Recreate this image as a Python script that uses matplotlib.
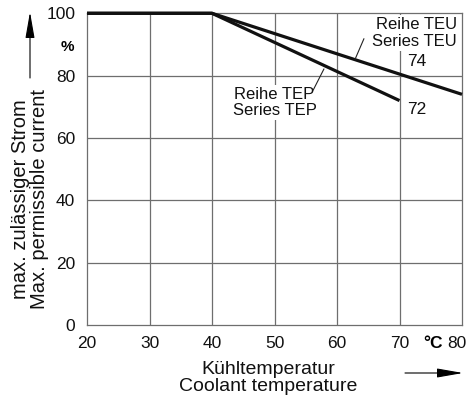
import matplotlib
matplotlib.use("Agg")
import matplotlib.pyplot as plt
from matplotlib.transforms import ScaledTranslation

plt.rcParams['font.family'] = ['Liberation Sans', 'DejaVu Sans']

temps_teu = [20, 40, 80]
current_teu = [100, 100, 74]
temps_tep = [20, 40, 70]
current_tep = [100, 100, 72]
x_ticks = [20, 30, 40, 50, 60, 70, 80]
y_ticks = [0, 20, 40, 60, 80, 100]

W, H = 467, 399
fig = plt.figure(figsize=(W/100, H/100), dpi=100)
L, R, T, B = 87, 462, 13.3, 325
ax = fig.add_axes([L/W, 1-B/H, (R-L)/W, (B-T)/H])
ax.set_xlim(20, 80)
ax.set_ylim(0, 100)

gc = '#6e6e6e'
for x in x_ticks[1:-1]:
    ax.plot([x, x], [0, 100], color=gc, lw=0.9, zorder=1)
for y in y_ticks[1:-1]:
    ax.plot([20, 80], [y, y], color=gc, lw=0.9, zorder=1)

ax.plot(temps_teu, current_teu, color='#111111', lw=2.3, zorder=3, clip_on=False, solid_capstyle='butt')
ax.plot(temps_tep, current_tep, color='#111111', lw=2.3, zorder=3, clip_on=False, solid_capstyle='butt')

for s in ax.spines.values():
    s.set_linewidth(0.9)
    s.set_color(gc)

ax.set_xticks(x_ticks)
ax.set_xticklabels([str(v) for v in x_ticks])
ax.set_yticks(y_ticks)
ax.set_yticklabels([str(v) for v in y_ticks])
ax.tick_params(length=0, labelsize=12.5, colors='#111111')
ax.tick_params(axis='x', pad=8)
ax.tick_params(axis='y', pad=8.5)
last = ax.get_xticklabels()[-1]
last.set_transform(last.get_transform() + ScaledTranslation(-5/100, 0, fig.dpi_scale_trans))

bb = dict(facecolor='white', edgecolor='none', pad=1.5)
ax.text(79.2, 93.7, 'Reihe TEU\nSeries TEU', ha='right', va='center', fontsize=12,
        linespacing=1.1, bbox=bb, zorder=4, color='#111111')
ax.text(50.0, 71.5, 'Reihe TEP\nSeries TEP', ha='center', va='center', fontsize=12,
        linespacing=1.1, bbox=bb, zorder=4, color='#111111')
ax.plot([64.3, 62.9], [91.8, 85.3], color='#222222', lw=0.8, zorder=4)
ax.plot([56.2, 57.9], [75.4, 82.1], color='#222222', lw=0.8, zorder=4)
ax.text(71.2, 84.4, '74', ha='left', va='center', fontsize=12.5, zorder=4, color='#111111')
ax.text(71.2, 69.0, '72', ha='left', va='center', fontsize=12.5, zorder=4, color='#111111')

fig.text(67/W, 1-47/H, '%', ha='center', va='center', fontsize=11, fontweight='bold')
fig.text(433/W, 1-343/H, '°C', ha='center', va='center', fontsize=12.5, fontweight='bold')

fig.text(268/W, 1-378/H, 'Kühltemperatur\nCoolant temperature', ha='center', va='center',
         fontsize=14, linespacing=1.0, color='#111111')
fig.text(30/W, 1-199/H, 'max. zulässiger Strom\nMax. permissible current', ha='center', va='center',
         fontsize=14.5, rotation=90, linespacing=1.0, color='#111111')

fig.add_artist(matplotlib.patches.FancyArrowPatch((30/W, 1-78/H), (30/W, 1-12/H), transform=fig.transFigure,
               arrowstyle='-|>,head_length=16,head_width=2.8', color='black', lw=0.8, mutation_scale=1,
               shrinkA=0, shrinkB=0))
fig.add_artist(matplotlib.patches.FancyArrowPatch((405/W, 1-373/H), (463/W, 1-373/H), transform=fig.transFigure,
               arrowstyle='-|>,head_length=16,head_width=2.8', color='black', lw=0.8, mutation_scale=1,
               shrinkA=0, shrinkB=0))

fig.savefig('out.png', dpi=100)
